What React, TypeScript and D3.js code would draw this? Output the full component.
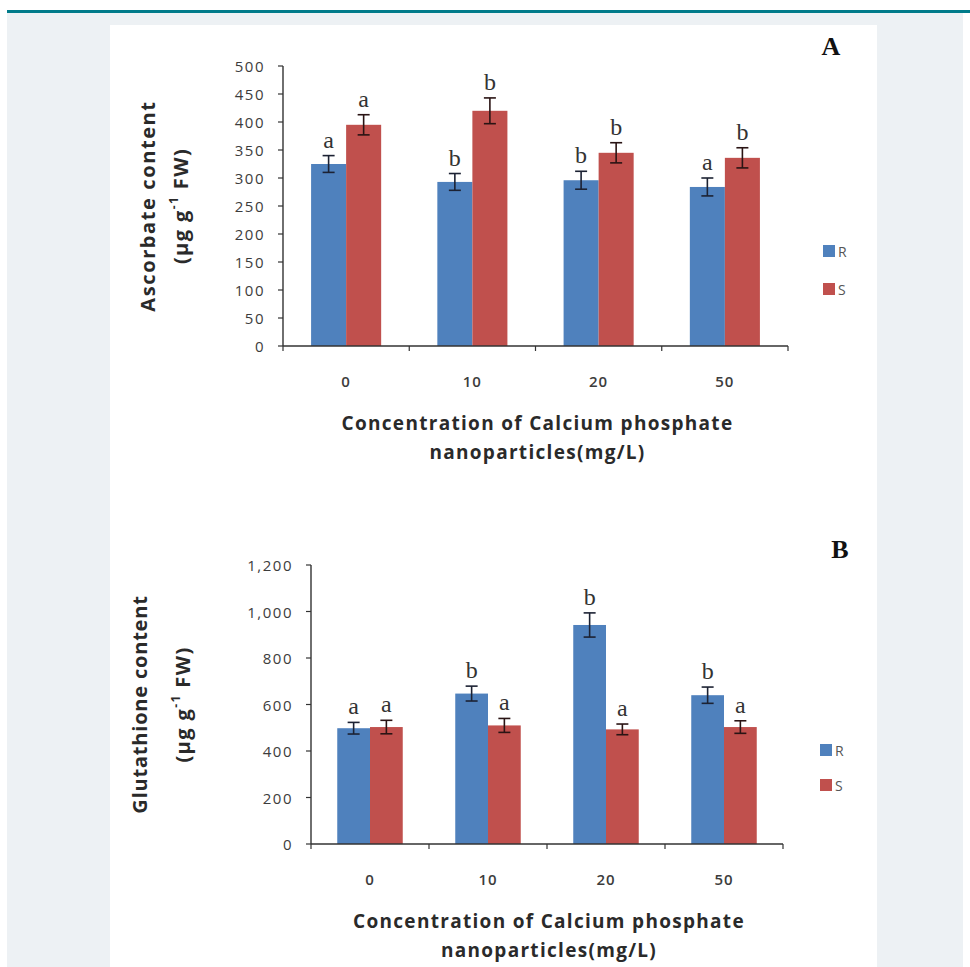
import React from "react"
import * as d3 from "d3"

const categories = ["0", "10", "20", "50"]
const seriesNames = ["R", "S"]

// panel A : ascorbate
const ascorbateR = [325, 293, 296, 284]
const ascorbateRErr = [15, 15, 16, 16]
const ascorbateS = [395, 420, 345, 336]
const ascorbateSErr = [18, 23, 18, 18]
const ascorbateRLetters = ["a", "b", "b", "a"]
const ascorbateSLetters = ["a", "b", "b", "b"]
const ascorbateTicks = [0, 50, 100, 150, 200, 250, 300, 350, 400, 450, 500]

// panel B : glutathione
const glutR = [498, 647, 942, 640]
const glutRErr = [25, 32, 52, 35]
const glutS = [503, 510, 493, 503]
const glutSErr = [29, 30, 23, 27]
const glutRLetters = ["a", "b", "b", "b"]
const glutSLetters = ["a", "a", "a", "a"]
const glutTicks = [0, 200, 400, 600, 800, 1000, 1200]

const colors = ["#4f81bd", "#c0504d"]
const sans = "'Open Sans', 'DejaVu Sans', sans-serif"
const serif = "'Liberation Serif', 'DejaVu Serif', serif"

type PanelProps = {
	left: number
	right: number
	top: number
	bottom: number
	yMax: number
	ticks: number[]
	tickFormat: (d: number) => string
	values: number[][]
	errors: number[][]
	letters: string[][]
	title: string
	titleSpacing: number
	titleX: [number, number]
	label: string
	labelPos: [number, number]
	legendPos: [number, number]
	legendGap: number
}

const Panel = (p: PanelProps) => {
	const x0 = d3
		.scaleBand()
		.domain(categories)
		.range([p.left, p.right])
		.paddingInner(0.445)
		.paddingOuter(0.2225)
	const x1 = d3.scaleBand().domain(seriesNames).range([0, x0.bandwidth()])
	const y = d3.scaleLinear().domain([0, p.yMax]).range([p.bottom, p.top])
	const step = x0.step()
	const midY = (p.top + p.bottom) / 2
	const midX = (p.left + p.right) / 2

	return (
		<g>
			{/* bars */}
			{categories.map((c, i) =>
				seriesNames.map((s, j) => {
					const v = p.values[j][i]
					const e = p.errors[j][i]
					const bx = (x0(c) as number) + (x1(s) as number)
					const cx = bx + x1.bandwidth() / 2
					return (
						<g key={c + s}>
							<rect
								x={bx}
								y={y(v)}
								width={x1.bandwidth()}
								height={p.bottom - y(v)}
								fill={colors[j]}
							/>
							<g stroke={j === 0 ? "#1c2233" : "#2a1414"} strokeWidth={1.6}>
								<line x1={cx} x2={cx} y1={y(v + e)} y2={y(v - e)} />
								<line x1={cx - 6} x2={cx + 6} y1={y(v + e)} y2={y(v + e)} />
								<line x1={cx - 6} x2={cx + 6} y1={y(v - e)} y2={y(v - e)} />
							</g>
							<text
								x={cx}
								y={y(v + e) - 8}
								textAnchor="middle"
								fontFamily={serif}
								fontSize={24}
								fill="#333"
							>
								{p.letters[j][i]}
							</text>
						</g>
					)
				}),
			)}

			{/* y axis */}
			<line x1={p.left} x2={p.left} y1={p.top} y2={p.bottom} stroke="#333" strokeWidth={1.4} />
			{p.ticks.map(t => (
				<g key={t}>
					<line x1={p.left - 5} x2={p.left} y1={y(t)} y2={y(t)} stroke="#333" strokeWidth={1.2} />
					<text
						x={p.left - 18}
						y={y(t)}
						textAnchor="end"
						dominantBaseline="central"
						fontFamily={sans}
						fontSize={15}
						letterSpacing={1.5}
						fill="#3c3c3c"
					>
						{p.tickFormat(t)}
					</text>
				</g>
			))}

			{/* x axis */}
			<line x1={p.left} x2={p.right} y1={p.bottom} y2={p.bottom} stroke="#333" strokeWidth={1.4} />
			{d3.range(categories.length + 1).map(k => (
				<line
					key={k}
					x1={p.left + k * step}
					x2={p.left + k * step}
					y1={p.bottom}
					y2={p.bottom + 5}
					stroke="#333"
					strokeWidth={1.2}
				/>
			))}
			{categories.map(c => (
				<text
					key={c}
					x={(x0(c) as number) + x0.bandwidth() / 2}
					y={p.bottom + 35}
					textAnchor="middle"
					dominantBaseline="central"
					fontFamily={sans}
					fontSize={15}
					fontWeight={600}
					letterSpacing={1}
					fill="#3c3c3c"
				>
					{c}
				</text>
			))}

			{/* x title */}
			<g fontFamily={sans} fontSize={19} fontWeight={700} fill="#2a2a2a" textAnchor="middle" letterSpacing={1.3}>
				<text x={midX + 2} y={p.bottom + 77} dominantBaseline="central">
					Concentration of Calcium phosphate
				</text>
				<text x={midX + 2} y={p.bottom + 106} dominantBaseline="central">
					nanoparticles(mg/L)
				</text>
			</g>

			{/* y title */}
			<g fontFamily={sans} fontSize={20} fontWeight={700} fill="#2a2a2a" textAnchor="middle">
				<text
					transform={`translate(${p.titleX[0]},${midY}) rotate(-90)`}
					dominantBaseline="central"
					letterSpacing={p.titleSpacing}
				>
					{p.title}
				</text>
				<text
					transform={`translate(${p.titleX[1]},${midY}) rotate(-90)`}
					dominantBaseline="central"
					letterSpacing={1.4}
				>
					(µg g
					<tspan fontSize={12} dy={-7}>
						-1
					</tspan>
					<tspan dy={7}> FW)</tspan>
				</text>
			</g>

			{/* legend */}
			{seriesNames.map((s, j) => (
				<g key={s} transform={`translate(${p.legendPos[0]},${p.legendPos[1] + j * p.legendGap})`}>
					<rect x={0} y={-6} width={12} height={12} fill={colors[j]} />
					<text x={15} y={0} dominantBaseline="central" fontFamily={sans} fontSize={14} fill="#555">
						{s}
					</text>
				</g>
			))}

			{/* panel label */}
			<text
				x={p.labelPos[0]}
				y={p.labelPos[1]}
				textAnchor="middle"
				fontFamily={serif}
				fontWeight={700}
				fontSize={26}
				fill="#111"
			>
				{p.label}
			</text>
		</g>
	)
}

export default function App() {
	const fmt = d3.format(",")
	return (
		<div style={{ position: "absolute", left: 0, top: 0 }}>
			<svg width={970} height={967} style={{ display: "block" }}>
				<rect x={0} y={0} width={970} height={967} fill="#fff" />
				<rect x={7} y={12} width={956} height={955} fill="#edf1f4" />
				<rect x={7} y={10} width={963} height={3} fill="#007b8a" />
				<rect x={110} y={25} width={767} height={942} fill="#fff" />

				<Panel
					left={283}
					right={788}
					top={66}
					bottom={346}
					yMax={500}
					ticks={ascorbateTicks}
					tickFormat={d => String(d)}
					values={[ascorbateR, ascorbateS]}
					errors={[ascorbateRErr, ascorbateSErr]}
					letters={[ascorbateRLetters, ascorbateSLetters]}
					title="Ascorbate  content"
					titleSpacing={1.6}
					titleX={[147, 180]}
					label="A"
					labelPos={[831, 55]}
					legendPos={[823, 251]}
					legendGap={38}
				/>
				<Panel
					left={311}
					right={783}
					top={565}
					bottom={844}
					yMax={1200}
					ticks={glutTicks}
					tickFormat={d => fmt(d)}
					values={[glutR, glutS]}
					errors={[glutRErr, glutSErr]}
					letters={[glutRLetters, glutSLetters]}
					title="Glutathione content"
					titleSpacing={0.8}
					titleX={[139, 182]}
					label="B"
					labelPos={[840, 558]}
					legendPos={[820, 750]}
					legendGap={35}
				/>
			</svg>
		</div>
	)
}
